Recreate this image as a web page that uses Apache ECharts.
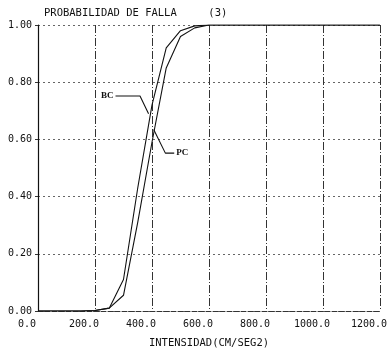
<!DOCTYPE html>
<html>
<head>
<meta charset="utf-8">
<script src="https://cdn.jsdelivr.net/npm/echarts@6/dist/echarts.min.js"></script>
<style>
html,body{margin:0;padding:0;background:#fff;}
#c{width:390px;height:354px;}
</style>
</head>
<body>
<div id="c"></div>
<script>
// Data
const intensidad = [0, 50, 100, 150, 200, 250, 300, 350, 400, 450, 500, 550, 600, 650, 700, 800, 900, 1000, 1100, 1200];
const probBC = [0, 0, 0, 0, 0.002, 0.01, 0.11, 0.43, 0.72, 0.92, 0.98, 0.997, 1.0, 1.0, 1.0, 1.0, 1.0, 1.0, 1.0, 1.0];
const probPC = [0, 0, 0, 0, 0.002, 0.01, 0.055, 0.31, 0.59, 0.85, 0.96, 0.99, 1.0, 1.0, 1.0, 1.0, 1.0, 1.0, 1.0, 1.0];
const xTicks = [0, 200, 400, 600, 800, 1000, 1200];
const yTicks = [0, 0.2, 0.4, 0.6, 0.8, 1.0];
// Annotation leaders (data coordinates)
const leaderBC = [[272, 0.752], [358, 0.752], [388, 0.69]];
const leaderPC = [[406, 0.635], [447, 0.552], [478, 0.552]];
const titleText = 'PROBABILIDAD DE FALLA     (3)';
const xTitle = 'INTENSIDAD(CM/SEG2)';

const FONT = 'DejaVu Sans Mono';
const chart = echarts.init(document.getElementById('c'), null, {renderer: 'canvas'});
const pair = (xs, ys) => xs.map((x, i) => [x, ys[i]]);

chart.setOption({
  animation: false,
  backgroundColor: '#fff',
  title: {
    text: titleText, left: 39, top: 3,
    textStyle: {fontFamily: FONT, fontSize: 10.5, fontWeight: 'normal', color: '#111'}
  },
  grid: {left: 38, right: 10, top: 25, bottom: 37},
  xAxis: {
    type: 'value', min: 0, max: 1200, interval: 200,
    name: xTitle, nameLocation: 'middle', nameGap: 27,
    nameTextStyle: {fontFamily: FONT, fontSize: 10.5, color: '#111', padding: [0, 0, 0, 0]},
    axisLine: {show: true, onZero: false, lineStyle: {color: '#333', width: 1, type: [5, 2]}},
    axisTick: {show: false},
    axisLabel: {
      fontFamily: FONT, fontSize: 10, color: '#111', margin: 8,
      padding: [0, 22, 0, 0],
      formatter: v => v.toFixed(1)
    },
    splitLine: {show: true, lineStyle: {color: '#333', width: 1, type: [8, 2, 1, 2]}}
  },
  yAxis: {
    type: 'value', min: 0, max: 1, interval: 0.2,
    axisLine: {show: true, onZero: false, lineStyle: {color: '#111', width: 1.2}},
    axisTick: {show: true, length: 3, lineStyle: {color: '#333'}},
    axisLabel: {fontFamily: FONT, fontSize: 10, color: '#111', margin: 6, formatter: v => v.toFixed(2)},
    splitLine: {show: true, lineStyle: {color: '#666', width: 1, type: [2, 3]}}
  },
  series: [
    {
      name: 'BC', type: 'line', data: pair(intensidad, probBC), symbol: 'none',
      lineStyle: {color: '#111', width: 1.1}
    },
    {
      name: 'PC', type: 'line', data: pair(intensidad, probPC), symbol: 'none',
      lineStyle: {color: '#111', width: 1.1}
    },
    {
      name: 'BC-label', type: 'line', data: leaderBC, symbol: 'none',
      lineStyle: {color: '#111', width: 1.1},
      markPoint: {
        symbol: 'circle', symbolSize: 0,
        data: [{coord: leaderBC[0], label: {show: true, formatter: 'BC', position: 'left', distance: 2,
          fontFamily: 'Liberation Serif', fontWeight: 'bold', fontSize: 9, color: '#111'}}]
      }
    },
    {
      name: 'PC-label', type: 'line', data: leaderPC, symbol: 'none',
      lineStyle: {color: '#111', width: 1.1},
      markPoint: {
        symbol: 'circle', symbolSize: 0,
        data: [{coord: leaderPC[2], label: {show: true, formatter: 'PC', position: 'right', distance: 2,
          fontFamily: 'Liberation Serif', fontWeight: 'bold', fontSize: 9, color: '#111'}}]
      }
    }
  ]
});
</script>
</body>
</html>
